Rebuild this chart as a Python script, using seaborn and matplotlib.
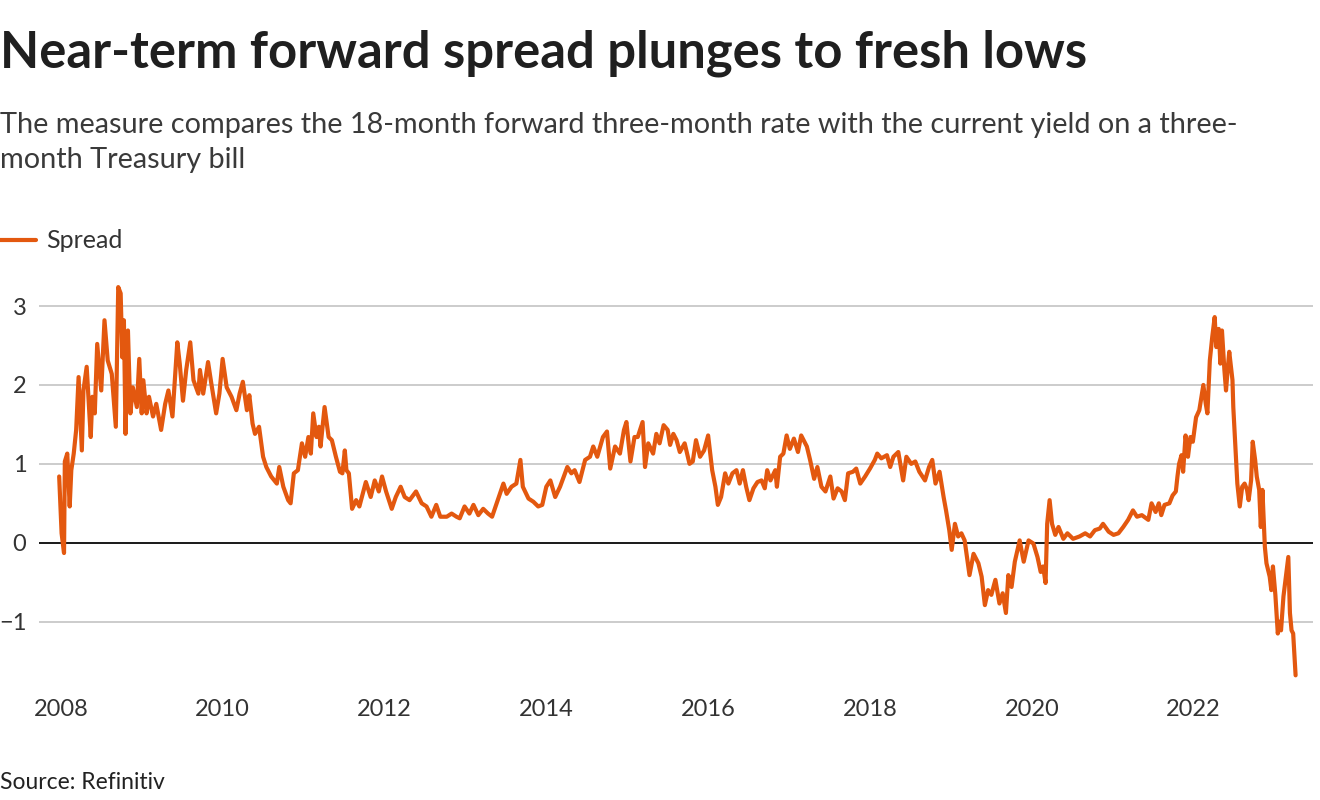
import numpy as np
import pandas as pd
import seaborn as sns
import matplotlib.pyplot as plt

# spread values, in decimal years, split by period
t_2008_2011 = [2007.98, 2008.00, 2008.01, 2008.04, 2008.05, 2008.08, 2008.11, 2008.13, 2008.16, 2008.19,
               2008.22, 2008.26, 2008.28, 2008.32, 2008.37, 2008.39, 2008.42, 2008.45, 2008.50, 2008.54,
               2008.58, 2008.63, 2008.68, 2008.71, 2008.74, 2008.76, 2008.78, 2008.80, 2008.83, 2008.86,
               2008.89, 2008.94, 2008.97, 2009.00, 2009.02, 2009.06, 2009.09, 2009.14, 2009.18, 2009.24,
               2009.29, 2009.33, 2009.38, 2009.41, 2009.44, 2009.47, 2009.51, 2009.55, 2009.60, 2009.64,
               2009.70, 2009.72, 2009.76, 2009.82, 2009.86, 2009.92, 2009.96, 2010.00, 2010.05, 2010.11,
               2010.17, 2010.21, 2010.25, 2010.30, 2010.33, 2010.37, 2010.40, 2010.45, 2010.50, 2010.54,
               2010.60, 2010.67, 2010.70, 2010.75, 2010.81, 2010.84, 2010.88, 2010.93, 2010.98, 2011.02,
               2011.06, 2011.09, 2011.12, 2011.16, 2011.19, 2011.21, 2011.26]
v_2008_2011 = [0.84, 0.37, 0.12, -0.13, 1.03, 1.13, 0.46, 0.92, 1.13, 1.43,
               2.10, 1.17, 1.93, 2.23, 1.34, 1.85, 1.64, 2.52, 1.93, 2.82,
               2.31, 2.14, 1.47, 3.24, 3.16, 2.35, 2.82, 1.38, 2.69, 1.64,
               1.97, 1.72, 2.33, 1.64, 2.06, 1.64, 1.85, 1.60, 1.76, 1.43,
               1.76, 1.93, 1.60, 2.06, 2.54, 2.27, 1.80, 2.19, 2.54, 2.06,
               1.89, 2.19, 1.89, 2.29, 2.02, 1.64, 1.89, 2.33, 1.97, 1.85,
               1.68, 1.89, 2.04, 1.68, 1.87, 1.51, 1.38, 1.47, 1.09, 0.96,
               0.84, 0.75, 0.96, 0.71, 0.54, 0.50, 0.88, 0.92, 1.26, 1.09,
               1.34, 1.13, 1.64, 1.34, 1.47, 1.22, 1.72]

t_2011_2015 = [2011.31, 2011.35, 2011.40, 2011.45, 2011.48, 2011.51, 2011.53, 2011.56, 2011.60, 2011.65,
               2011.69, 2011.77, 2011.83, 2011.88, 2011.93, 2011.97, 2012.02, 2012.09, 2012.14, 2012.20,
               2012.25, 2012.31, 2012.39, 2012.46, 2012.52, 2012.58, 2012.64, 2012.69, 2012.77, 2012.83,
               2012.89, 2012.93, 2012.99, 2013.05, 2013.10, 2013.16, 2013.22, 2013.28, 2013.33, 2013.40,
               2013.47, 2013.51, 2013.57, 2013.63, 2013.68, 2013.71, 2013.78, 2013.84, 2013.90, 2013.95,
               2014.00, 2014.05, 2014.11, 2014.17, 2014.26, 2014.31, 2014.35, 2014.41, 2014.48, 2014.54,
               2014.58, 2014.63, 2014.70, 2014.75, 2014.79, 2014.85, 2014.91, 2014.96, 2014.99, 2015.04,
               2015.09, 2015.13]
v_2011_2015 = [1.34, 1.30, 1.09, 0.90, 0.88, 1.17, 0.92, 0.88, 0.43, 0.54,
               0.46, 0.77, 0.58, 0.79, 0.65, 0.84, 0.65, 0.43, 0.58, 0.71,
               0.58, 0.54, 0.65, 0.50, 0.46, 0.33, 0.48, 0.33, 0.33, 0.37,
               0.33, 0.31, 0.46, 0.37, 0.48, 0.35, 0.43, 0.37, 0.33, 0.54,
               0.75, 0.62, 0.71, 0.75, 1.05, 0.71, 0.56, 0.52, 0.46, 0.48,
               0.71, 0.79, 0.58, 0.71, 0.96, 0.88, 0.92, 0.77, 1.05, 1.09,
               1.22, 1.09, 1.34, 1.41, 0.94, 1.22, 1.13, 1.43, 1.53, 1.03,
               1.34, 1.34]

t_2015_2019 = [2015.19, 2015.22, 2015.26, 2015.32, 2015.36, 2015.40, 2015.45, 2015.50, 2015.53, 2015.57,
               2015.61, 2015.65, 2015.71, 2015.77, 2015.81, 2015.85, 2015.90, 2015.95, 2016.00, 2016.05,
               2016.09, 2016.12, 2016.16, 2016.21, 2016.25, 2016.30, 2016.35, 2016.39, 2016.43, 2016.47,
               2016.51, 2016.56, 2016.61, 2016.66, 2016.70, 2016.73, 2016.77, 2016.83, 2016.85, 2016.89,
               2016.93, 2016.97, 2017.01, 2017.06, 2017.11, 2017.15, 2017.22, 2017.26, 2017.31, 2017.35,
               2017.40, 2017.45, 2017.51, 2017.55, 2017.60, 2017.65, 2017.69, 2017.73, 2017.79, 2017.83,
               2017.88, 2017.94, 2018.00, 2018.06, 2018.09, 2018.14, 2018.21, 2018.25, 2018.29, 2018.35,
               2018.41, 2018.45, 2018.51, 2018.56, 2018.61, 2018.68, 2018.73, 2018.77, 2018.81, 2018.86,
               2018.91, 2018.94, 2018.98, 2019.01, 2019.05, 2019.09]
v_2015_2019 = [1.53, 0.96, 1.26, 1.13, 1.38, 1.26, 1.49, 1.43, 1.24, 1.38,
               1.30, 1.15, 1.26, 1.00, 1.03, 1.30, 1.09, 1.17, 1.36, 0.92,
               0.71, 0.48, 0.58, 0.88, 0.75, 0.88, 0.92, 0.75, 0.92, 0.71,
               0.54, 0.69, 0.77, 0.79, 0.69, 0.92, 0.79, 0.92, 0.71, 1.09,
               1.13, 1.36, 1.19, 1.32, 1.15, 1.36, 1.22, 1.05, 0.81, 0.96,
               0.71, 0.65, 0.84, 0.56, 0.69, 0.65, 0.54, 0.88, 0.90, 0.94,
               0.75, 0.84, 0.94, 1.05, 1.13, 1.07, 1.11, 0.96, 1.09, 1.15,
               0.79, 1.09, 1.00, 1.03, 0.90, 0.79, 0.96, 1.05, 0.75, 0.90,
               0.58, 0.41, 0.16, -0.09, 0.24, 0.08]

t_2019_2023 = [2019.13, 2019.17, 2019.23, 2019.28, 2019.34, 2019.38, 2019.42, 2019.46, 2019.50, 2019.55,
               2019.60, 2019.64, 2019.68, 2019.71, 2019.75, 2019.79, 2019.85, 2019.90, 2019.96, 2020.02,
               2020.07, 2020.11, 2020.14, 2020.17, 2020.19, 2020.22, 2020.25, 2020.29, 2020.33, 2020.39,
               2020.44, 2020.51, 2020.59, 2020.66, 2020.72, 2020.78, 2020.84, 2020.88, 2020.95, 2021.01,
               2021.07, 2021.13, 2021.19, 2021.25, 2021.30, 2021.36, 2021.44, 2021.48, 2021.53, 2021.57,
               2021.60, 2021.64, 2021.70, 2021.74, 2021.78, 2021.80, 2021.82, 2021.85, 2021.87, 2021.90,
               2021.93, 2021.96, 2021.99, 2022.03, 2022.07, 2022.12, 2022.15, 2022.17, 2022.20, 2022.23,
               2022.26, 2022.28, 2022.31, 2022.33, 2022.35, 2022.38, 2022.40, 2022.42, 2022.44, 2022.48,
               2022.49, 2022.52, 2022.54, 2022.57, 2022.60, 2022.63, 2022.66, 2022.68, 2022.71, 2022.73,
               2022.76, 2022.78, 2022.81, 2022.83, 2022.85, 2022.88, 2022.90, 2022.94, 2022.96, 2022.98,
               2023.01, 2023.04, 2023.06, 2023.08, 2023.11, 2023.14, 2023.17, 2023.19, 2023.21, 2023.23,
               2023.25, 2023.26]
v_2019_2023 = [0.12, 0.03, -0.41, -0.14, -0.26, -0.43, -0.79, -0.60, -0.66, -0.47,
               -0.77, -0.64, -0.89, -0.41, -0.56, -0.24, 0.03, -0.24, 0.03, -0.01,
               -0.18, -0.37, -0.30, -0.51, 0.24, 0.54, 0.24, 0.10, 0.20, 0.05,
               0.12, 0.05, 0.08, 0.12, 0.08, 0.16, 0.18, 0.24, 0.14, 0.10,
               0.12, 0.20, 0.29, 0.41, 0.33, 0.35, 0.29, 0.50, 0.39, 0.50,
               0.35, 0.48, 0.50, 0.60, 0.65, 0.84, 1.00, 1.11, 0.90, 1.36,
               1.09, 1.34, 1.28, 1.59, 1.68, 2.00, 1.76, 1.64, 2.31, 2.61,
               2.86, 2.48, 2.71, 2.27, 2.69, 2.19, 1.93, 2.19, 2.42, 2.06,
               1.72, 1.13, 0.75, 0.46, 0.71, 0.75, 0.67, 0.54, 0.79, 1.28,
               1.05, 0.84, 0.67, 0.20, 0.67, -0.05, -0.26, -0.43, -0.60, -0.30,
               -0.66, -1.15, -1.00, -1.11, -0.68, -0.43, -0.18, -0.89, -1.11, -1.15,
               -1.49, -1.68]

year_ticks = [2008, 2010, 2012, 2014, 2016, 2018, 2020, 2022]
y_ticks = [-1, 0, 1, 2, 3]

df = pd.DataFrame({
    'year': t_2008_2011 + t_2011_2015 + t_2015_2019 + t_2019_2023,
    'Spread': v_2008_2011 + v_2011_2015 + v_2015_2019 + v_2019_2023,
})

sns.set_theme(style='white')
plt.rcParams['font.family'] = ['Lato', 'DejaVu Sans']

orange = '#e3580f'
text_col = '#333333'
fig = plt.figure(figsize=(13.2, 8), dpi=100)
ax = fig.add_axes([0.0295, 0.144, 0.9655, 0.506])

ax.axhline(0, color='#1a1a1a', lw=1.4, zorder=2)
sns.lineplot(data=df, x='year', y='Spread', ax=ax, color=orange, lw=3.0,
             label='Spread', zorder=3)

ax.set_xlim(2007.73, 2023.48)
ax.set_ylim(-1.80, 3.33)
ax.set_xticks(year_ticks)
ax.set_xticklabels([str(y) for y in year_ticks])
ax.set_yticks(y_ticks)
ax.grid(axis='y', color='#c4c4c4', lw=1.2)
ax.grid(axis='x', visible=False)
for s in ax.spines.values():
    s.set_visible(False)
ax.tick_params(axis='both', length=0, labelsize=17, colors=text_col)
ax.tick_params(axis='y', pad=9)
ax.tick_params(axis='x', pad=10)
ax.set_xlabel('')
ax.set_ylabel('')

handles, labels = ax.get_legend_handles_labels()
ax.get_legend().remove()
fig.legend(handles, labels, loc='center left', bbox_to_anchor=(0.0, 0.699),
           frameon=False, handlelength=1.45, handletextpad=0.4,
           borderpad=0, borderaxespad=0,
           prop={'size': 18}, labelcolor=text_col)

fig.text(0.0, 0.933, 'Near-term forward spread plunges to fresh lows',
         fontsize=36.5, fontweight='bold', color='#1f1f1f', va='center', ha='left')
fig.text(0.0, 0.822,
         'The measure compares the 18-month forward three-month rate with the current yield on a three-\n'
         'month Treasury bill',
         fontsize=20.8, color='#3a3a3a', va='center', ha='left',
         linespacing=1.45)
fig.text(0.0, 0.022, 'Source: Refinitiv', fontsize=16.5, color='#222222',
         va='center', ha='left')

fig.savefig('out.png', dpi=100)
